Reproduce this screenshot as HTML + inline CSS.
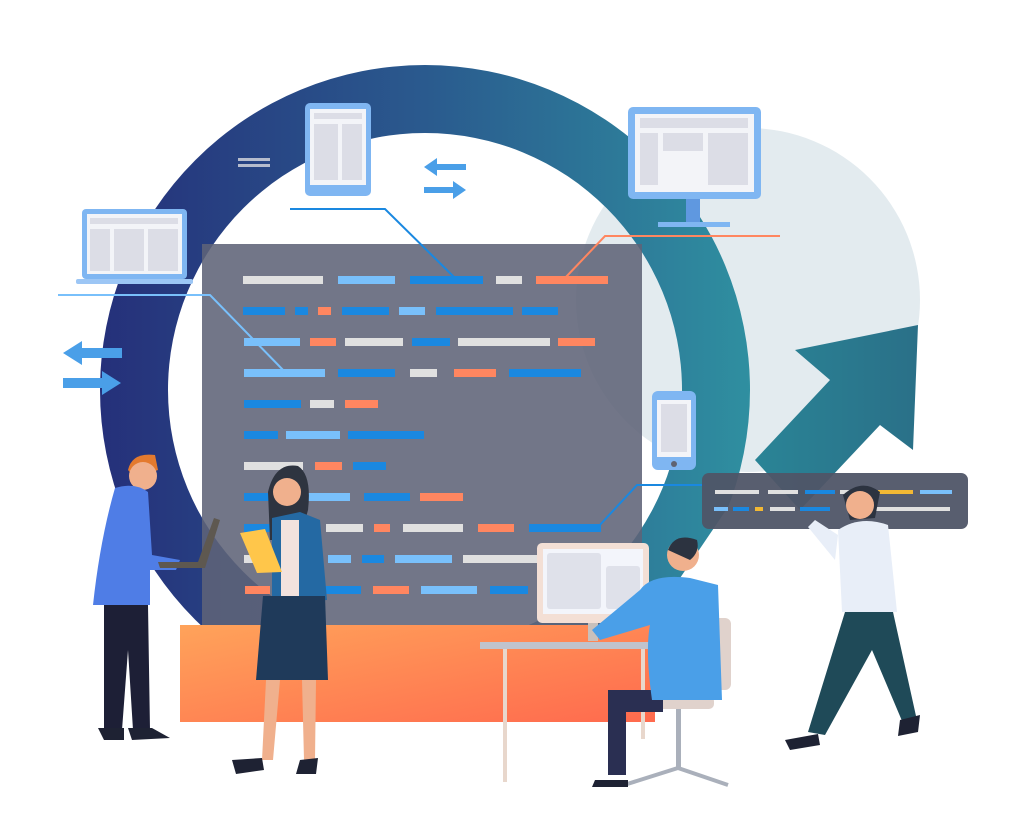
<!DOCTYPE html>
<html><head><meta charset="utf-8"><style>html,body{margin:0;padding:0;background:#fff}svg{display:block}</style></head><body>
<svg width="1024" height="835" viewBox="0 0 1024 835" xmlns="http://www.w3.org/2000/svg">
<defs>
<linearGradient id="ring" x1="0" x2="1" y1="0" y2="0"><stop offset="0" stop-color="#25307a"/><stop offset="0.5" stop-color="#2a5a8e"/><stop offset="1" stop-color="#2f8fa0"/></linearGradient>
<linearGradient id="org" x1="0" x2="1" y1="0" y2="1"><stop offset="0" stop-color="#ffa35a"/><stop offset="1" stop-color="#ff6a4e"/></linearGradient>
<linearGradient id="arr" x1="0" x2="1"><stop offset="0" stop-color="#2a8496"/><stop offset="1" stop-color="#2a7088"/></linearGradient>
<clipPath id="rc"><polygon points="0,0 1024,0 1024,460 760,460 655,615 200,835 0,835"/></clipPath>
</defs>
<circle cx="748" cy="300" r="172" fill="#e3ebef"/>
<path clip-path="url(#rc)" fill-rule="evenodd" d="M 100 390 A 325 325 0 1 0 750 390 A 325 325 0 1 0 100 390 Z M 168 390 A 257 257 0 1 0 682 390 A 257 257 0 1 0 168 390 Z" fill="url(#ring)"/>
<path d="M 755 460 L 830 380 L 795 350 L 918 325 L 913 450 L 880 425 L 800 510 Z" fill="url(#arr)"/>
<rect x="202" y="244" width="440" height="382" fill="#5e6377" opacity="0.88"/>
<rect x="180" y="625" width="475" height="97" fill="url(#org)"/>
<g fill="#e0e0e0">
<rect x="243" y="276" width="80" height="8"/><rect x="496" y="276" width="26" height="8"/><rect x="345" y="338" width="58" height="8"/><rect x="458" y="338" width="92" height="8"/><rect x="410" y="369" width="27" height="8"/><rect x="310" y="400" width="24" height="8"/><rect x="244" y="462" width="59" height="8"/><rect x="326" y="524" width="37" height="8"/><rect x="403" y="524" width="60" height="8"/><rect x="244" y="555" width="16" height="8"/><rect x="463" y="555" width="77" height="8"/></g>
<g fill="#79c0fb">
<rect x="338" y="276" width="57" height="8"/><rect x="399" y="307" width="26" height="8"/><rect x="244" y="338" width="56" height="8"/><rect x="244" y="369" width="81" height="8"/><rect x="286" y="431" width="54" height="8"/><rect x="300" y="493" width="50" height="8"/><rect x="328" y="555" width="23" height="8"/><rect x="395" y="555" width="57" height="8"/><rect x="421" y="586" width="56" height="8"/></g>
<g fill="#1a88e0">
<rect x="410" y="276" width="73" height="8"/><rect x="243" y="307" width="42" height="8"/><rect x="295" y="307" width="13" height="8"/><rect x="342" y="307" width="47" height="8"/><rect x="436" y="307" width="77" height="8"/><rect x="522" y="307" width="36" height="8"/><rect x="412" y="338" width="38" height="8"/><rect x="338" y="369" width="57" height="8"/><rect x="509" y="369" width="72" height="8"/><rect x="244" y="400" width="57" height="8"/><rect x="244" y="431" width="34" height="8"/><rect x="348" y="431" width="76" height="8"/><rect x="353" y="462" width="33" height="8"/><rect x="244" y="493" width="46" height="8"/><rect x="364" y="493" width="46" height="8"/><rect x="244" y="524" width="46" height="8"/><rect x="529" y="524" width="72" height="8"/><rect x="362" y="555" width="22" height="8"/><rect x="320" y="586" width="41" height="8"/><rect x="490" y="586" width="38" height="8"/></g>
<g fill="#ff8660">
<rect x="536" y="276" width="72" height="8"/><rect x="318" y="307" width="13" height="8"/><rect x="310" y="338" width="26" height="8"/><rect x="558" y="338" width="37" height="8"/><rect x="454" y="369" width="42" height="8"/><rect x="345" y="400" width="33" height="8"/><rect x="315" y="462" width="27" height="8"/><rect x="420" y="493" width="43" height="8"/><rect x="374" y="524" width="16" height="8"/><rect x="478" y="524" width="36" height="8"/><rect x="245" y="586" width="25" height="8"/><rect x="373" y="586" width="36" height="8"/></g>
<g fill="none" stroke-width="2">
<polyline points="290,209 385,209 455,278" stroke="#1a88e0"/>
<polyline points="565,278 605,236 780,236" stroke="#ff8660"/>
<polyline points="58,295 210,295 285,372" stroke="#79c0fb"/>
<polyline points="598,527 637,485 705,485" stroke="#1a88e0"/>
</g>
<rect x="305" y="103" width="66" height="93" rx="5" fill="#7fb6f2"/><rect x="310" y="109" width="56" height="76" fill="#f3f4f8"/>
<rect x="314" y="113" width="48" height="6" fill="#dcdde6"/><rect x="314" y="124" width="24" height="56" fill="#dcdde6"/><rect x="342" y="124" width="20" height="56" fill="#dcdde6"/>
<rect x="628" y="107" width="133" height="92" rx="5" fill="#7fb6f2"/><rect x="635" y="114" width="119" height="78" fill="#f3f4f8"/>
<rect x="640" y="118" width="108" height="10" fill="#dcdde6"/><rect x="640" y="133" width="18" height="52" fill="#dcdde6"/><rect x="663" y="133" width="40" height="18" fill="#dcdde6"/><rect x="708" y="133" width="40" height="52" fill="#dcdde6"/>
<rect x="686" y="199" width="14" height="25" fill="#5f98e0"/><rect x="658" y="222" width="72" height="5" fill="#7fb6f2"/>
<rect x="82" y="209" width="105" height="70" rx="4" fill="#7fb6f2"/><rect x="87" y="214" width="95" height="60" fill="#f3f4f8"/>
<rect x="90" y="218" width="88" height="6" fill="#dcdde6"/><rect x="90" y="229" width="20" height="42" fill="#dcdde6"/><rect x="114" y="229" width="30" height="42" fill="#dcdde6"/><rect x="148" y="229" width="30" height="42" fill="#dcdde6"/>
<rect x="76" y="279" width="117" height="5" rx="2" fill="#9cc6f5"/>
<rect x="652" y="391" width="44" height="79" rx="6" fill="#7fb6f2"/><rect x="657" y="400" width="34" height="57" fill="#f3f4f8"/><rect x="661" y="404" width="26" height="48" fill="#dcdde6"/><circle cx="674" cy="464" r="3" fill="#5f6372"/>
<rect x="238" y="158" width="32" height="3" fill="#b6bccd"/><rect x="238" y="164" width="32" height="3" fill="#b6bccd"/>
<g fill="#4a9fe8">
<path d="M424 167 L437 158 L437 164 L466 164 L466 170 L437 170 L437 176 Z"/>
<path d="M466 190 L453 181 L453 187 L424 187 L424 193 L453 193 L453 199 Z"/>
<path d="M63 353 L82 341 L82 348 L122 348 L122 358 L82 358 L82 365 Z"/>
<path d="M121 383 L102 371 L102 378 L63 378 L63 388 L102 388 L102 395 Z"/></g>
<rect x="702" y="473" width="266" height="56" rx="7" fill="#4f5567" opacity="0.95"/>
<g fill="#e0e0e0"><rect x="715" y="490" width="44" height="4"/><rect x="768" y="490" width="30" height="4"/><rect x="840" y="490" width="30" height="4"/><rect x="870" y="507" width="80" height="4"/><rect x="770" y="507" width="25" height="4"/></g>
<g fill="#1a88e0"><rect x="805" y="490" width="30" height="4"/><rect x="733" y="507" width="16" height="4"/><rect x="800" y="507" width="30" height="4"/></g>
<g fill="#f2b834"><rect x="878" y="490" width="35" height="4"/><rect x="755" y="507" width="8" height="4"/></g>
<g fill="#79c0fb"><rect x="920" y="490" width="32" height="4"/><rect x="714" y="507" width="14" height="4"/></g>
<rect x="480" y="642" width="178" height="7" fill="#c0c3cc"/><rect x="503" y="649" width="4" height="133" fill="#e8d7cc"/><rect x="641" y="649" width="4" height="90" fill="#e8d7cc"/>
<rect x="537" y="543" width="112" height="80" rx="5" fill="#f3dfd5"/><rect x="543" y="549" width="100" height="65" fill="#f3f5fb"/><rect x="547" y="553" width="54" height="56" rx="3" fill="#dfe1ea"/><rect x="606" y="566" width="34" height="43" rx="3" fill="#dfe1ea"/>
<rect x="588" y="623" width="10" height="18" fill="#c9c0bb"/>
<rect x="679" y="618" width="52" height="72" rx="6" fill="#e0d2cc"/><rect x="642" y="696" width="72" height="13" rx="5" fill="#e0d2cc"/><rect x="676" y="709" width="5" height="60" fill="#aab0bb"/>
<path d="M624 785 L678 768 L728 785" stroke="#aab0bb" stroke-width="4" fill="none"/>
<rect x="608" y="690" width="55" height="22" fill="#2a2f52"/><rect x="608" y="695" width="18" height="80" fill="#2a2f52"/>
<path d="M640 590 Q652 573 690 578 L718 585 L722 700 L652 700 Q645 650 650 625 L600 640 L592 630 Z" fill="#4a9fe8"/>
<circle cx="683" cy="555" r="16" fill="#f0b08d"/><path d="M668 550 Q675 532 697 540 Q700 552 690 560 Z" fill="#2c3340"/>
<path d="M595 780 L628 780 L628 787 L592 787 Z" fill="#1e2233"/>
<path d="M843 495 Q862 478 880 492 L875 518 L850 520 Z" fill="#2c3340"/><circle cx="860" cy="505" r="14" fill="#f0b08d"/>
<path d="M838 530 Q860 515 888 525 L897 612 L842 612 Z" fill="#e8eef8"/>
<path d="M838 535 L815 520 L808 527 L835 560 Z" fill="#e8eef8"/>
<path d="M845 612 L893 612 L918 725 L905 728 L872 650 L825 735 L808 732 Z" fill="#1f4a58"/>
<path d="M785 740 L818 734 L820 745 L790 750 Z M900 720 L920 715 L918 732 L898 736 Z" fill="#1e2233"/>
<path d="M128 470 Q132 452 155 455 L158 470 L135 478 Z" fill="#e47a2e"/><circle cx="143" cy="476" r="14" fill="#f0b08d"/>
<path d="M115 488 Q135 482 148 492 L152 555 L180 560 L176 570 L150 570 L150 605 L93 605 Q100 540 115 488 Z" fill="#4f7de6"/>
<path d="M104 605 L148 605 L150 730 L133 730 L128 650 L122 730 L104 730 Z" fill="#1d1f36"/>
<path d="M98 728 L124 728 L124 740 L104 740 Z M128 728 L152 728 L170 738 L132 740 Z" fill="#1e2233"/>
<path d="M160 568 L205 568 L220 520 L214 518 L198 562 L158 562 Z" fill="#5e5850"/>
<path d="M268 492 Q275 462 298 466 Q312 475 308 510 L300 540 L270 540 Z" fill="#2e3440"/><circle cx="287" cy="492" r="14" fill="#f0b08d"/>
<path d="M272 518 L300 512 L320 520 L327 600 L300 602 L272 600 Z" fill="#2469a3"/><rect x="281" y="520" width="18" height="78" fill="#f2e2de"/>
<path d="M263 596 L325 596 L328 680 L256 680 Z" fill="#1f3a5a"/>
<path d="M266 680 L280 680 L273 760 L262 760 Z M302 680 L316 680 L315 760 L304 760 Z" fill="#f0b08d"/>
<path d="M232 760 L262 758 L264 770 L236 774 Z M300 760 L318 758 L316 774 L296 774 Z" fill="#1e2233"/>
<path d="M240 533 L265 529 L282 572 L257 573 Z" fill="#ffc64a"/>
</svg>
</body></html>
